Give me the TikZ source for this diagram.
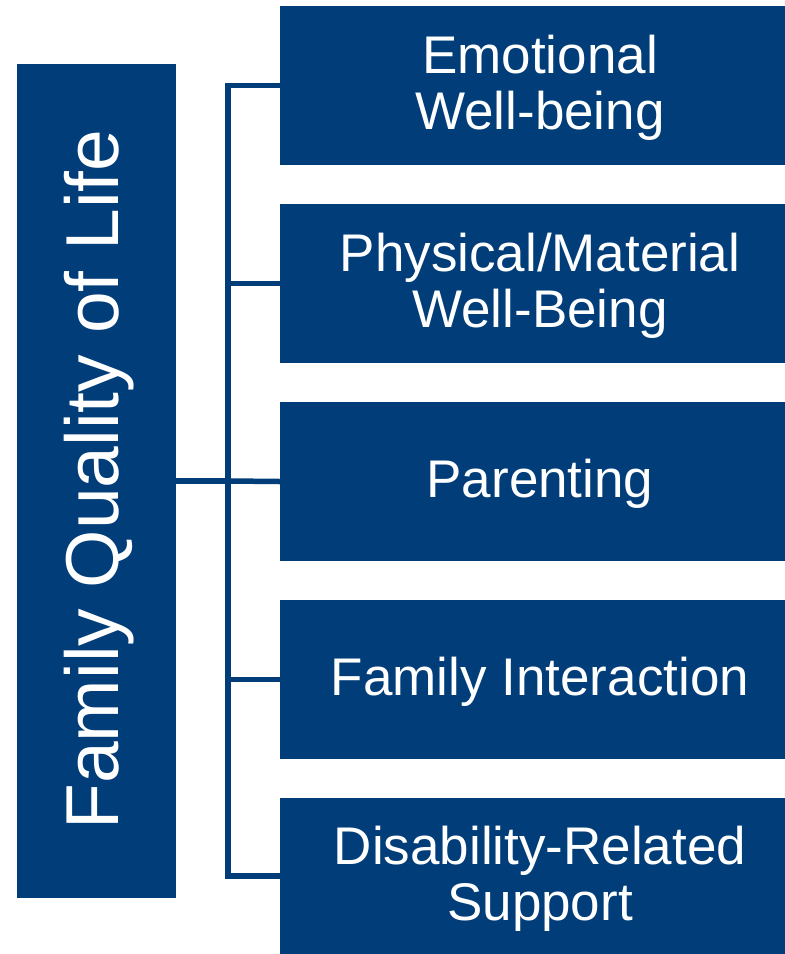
\documentclass[tikz,border=0pt]{standalone}
\usepackage{fontspec}
\setmainfont{Liberation Sans}
\definecolor{navy}{RGB}{0,61,121}
\begin{document}
\begin{tikzpicture}[x=1pt,y=-1pt,
  box/.style={fill=navy,draw=none,inner sep=0pt,text=white,align=center},
  subbox/.style={box,minimum width=505pt,minimum height=158.5pt,font=\fontsize{53}{56}\selectfont},
  lbl/.style={text=white,align=center,inner sep=0pt,font=\fontsize{53}{56}\selectfont},
  conn/.style={draw=navy,line width=5.5pt,line join=miter}]
\useasboundingbox (0,0) rectangle (785,954);
\node[box,minimum width=159pt,minimum height=834pt] (L) at (96.5,481) {};
\node[text=white,rotate=90,inner sep=0pt,font=\fontsize{75}{80}\selectfont] (Lt) at (99,479.5) {Family Quality of Life};
\node[subbox] (B1) at (532.5,85.5) {};
\node[subbox] (B2) at (532.5,283.5) {};
\node[subbox] (B3) at (532.5,481.5) {};
\node[subbox] (B4) at (532.5,679.5) {};
\node[subbox,minimum height=160pt] (B5) at (532.5,878) {};
\node[lbl] (T1) at (540,88) {Emotional\\Well-being};
\node[lbl] (T2) at (540,286) {Physical/Material\\Well-Being};
\node[lbl] (T3) at (540,484) {Parenting};
\node[lbl] (T4) at (540,682) {Family Interaction};
\node[lbl] (T5) at (540,878.5) {Disability-Related\\Support};
\coordinate (J) at (228,481);
\draw[conn] (L.east) -- (J);
\draw[conn] (B1.west) -| (J);
\draw[conn] (B2.west) -| (J);
\draw[conn] (B3.west) -- (J);
\draw[conn] (B4.west) -| (J);
\draw[conn] ([yshift=2pt]B5.west) -| (J);
\end{tikzpicture}
\end{document}
